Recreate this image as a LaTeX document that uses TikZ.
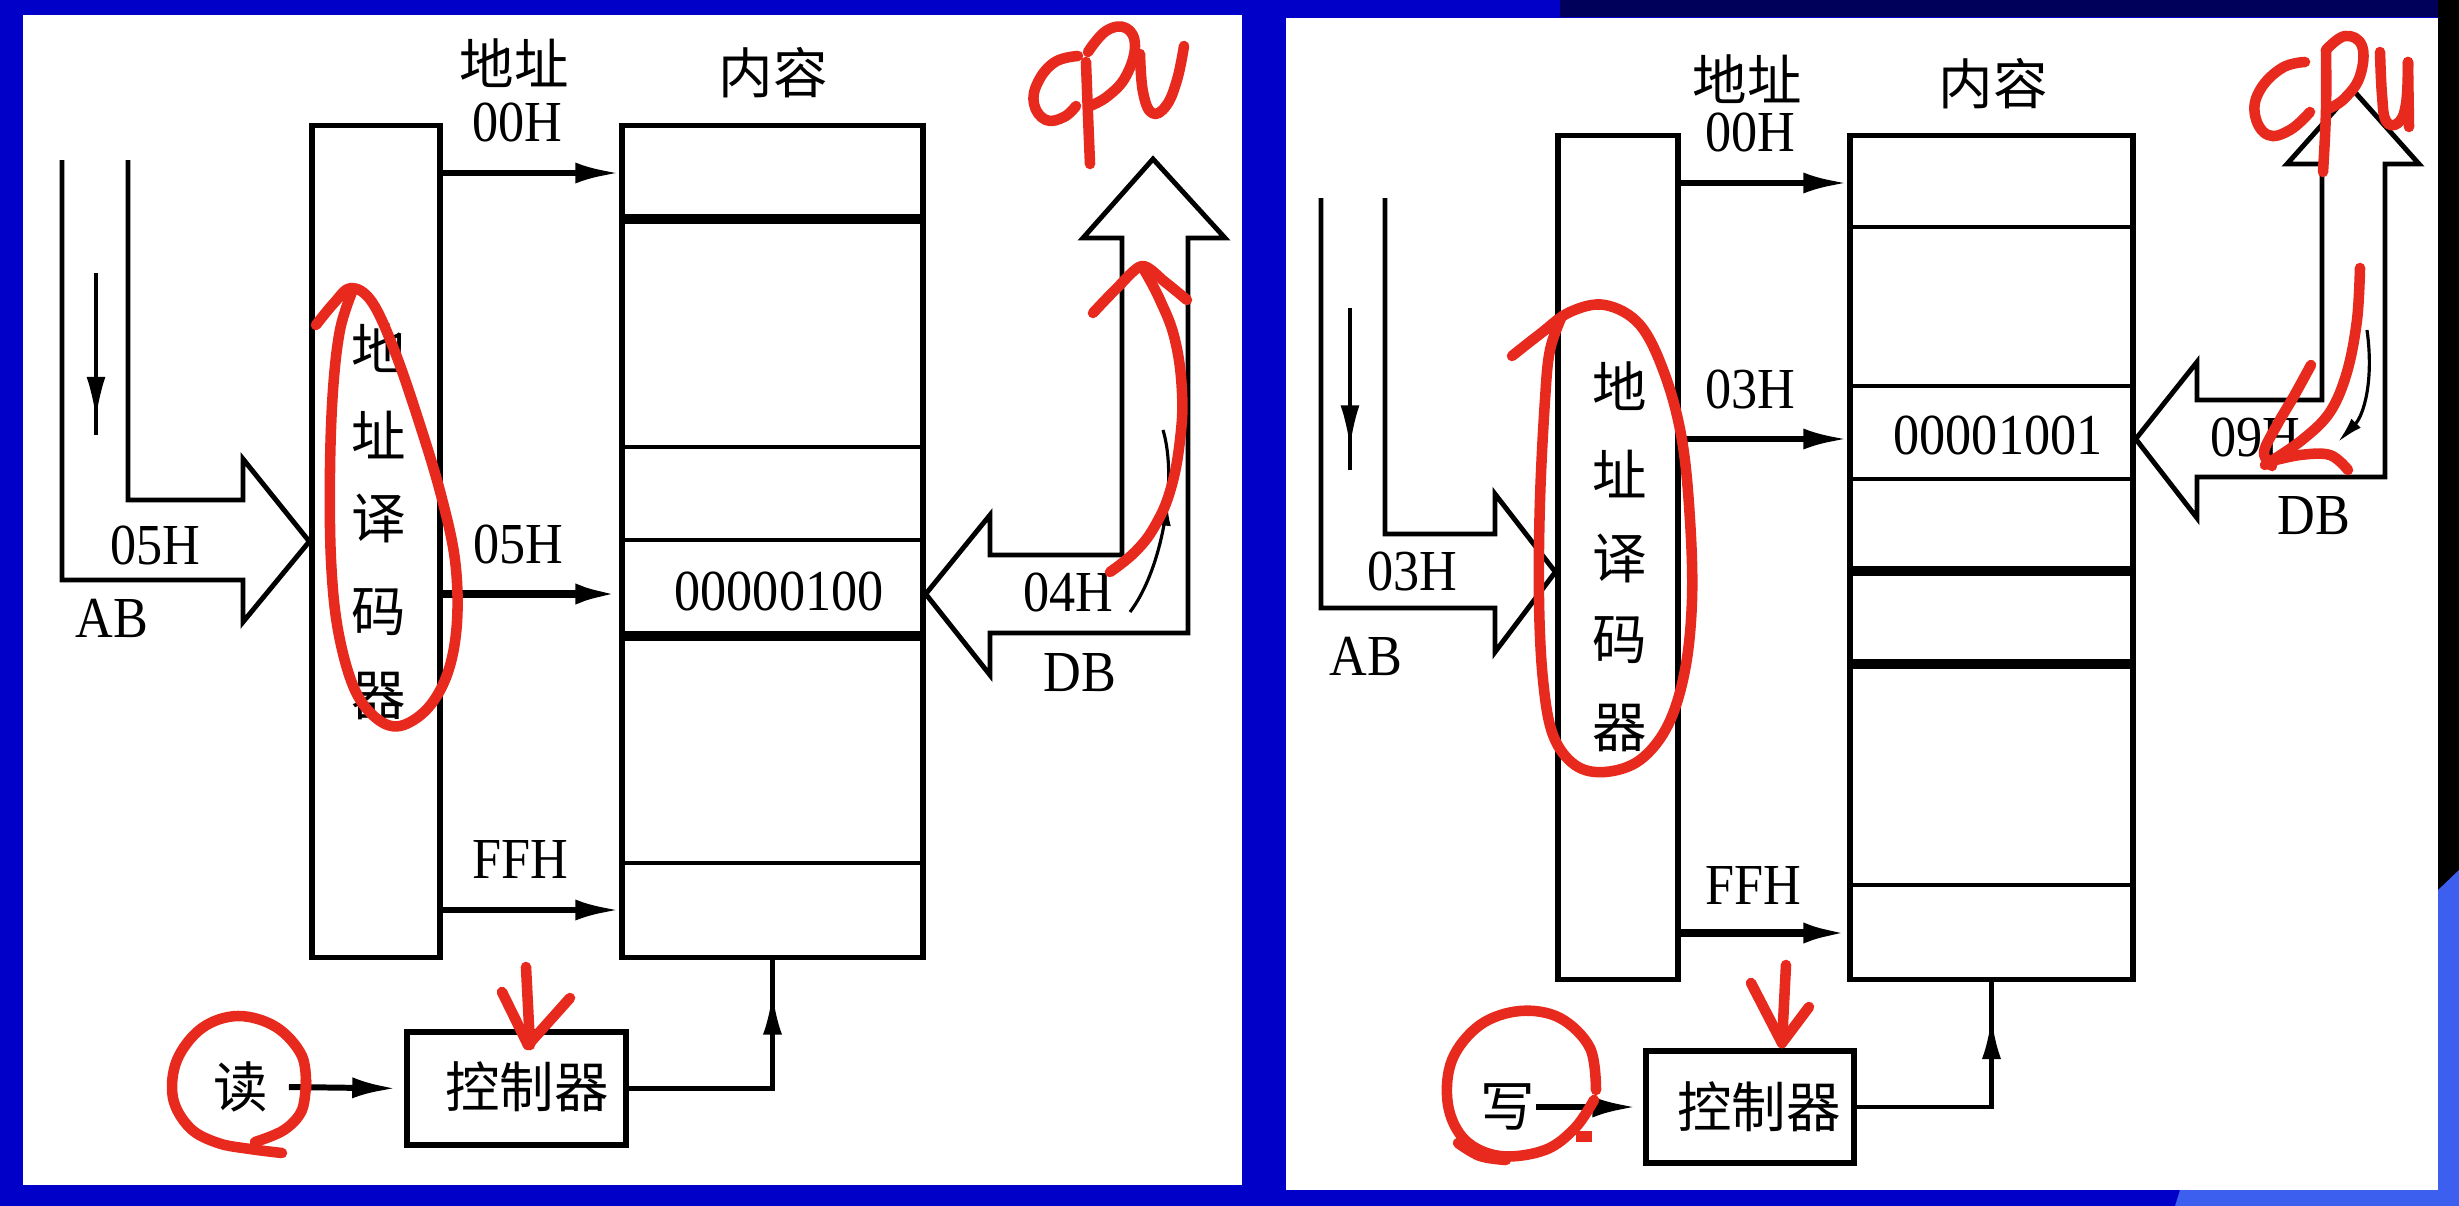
\documentclass[tikz,border=0pt]{standalone}
\usepackage{fontspec}
\setmainfont{Liberation Serif}
\newfontfamily\cjk{Noto Sans CJK SC}
\usetikzlibrary{arrows.meta,decorations.markings}
\definecolor{bgblue}{RGB}{0,0,200}
\definecolor{annred}{RGB}{232,42,30}
\definecolor{navyband}{RGB}{0,0,90}
\definecolor{lightbg}{RGB}{60,95,240}
\begin{document}
\begin{tikzpicture}[x=0.01cm,y=-0.01cm,
  ln/.style={line width=1.4pt, line join=miter},
  thk/.style={line width=2.7pt},
  box/.style={draw, line width=1.5pt, fill=white, inner sep=0pt, anchor=center},
  lbl/.style={font=\fontsize{16.5}{16.5}\selectfont, inner sep=0pt, xscale=0.9},
  cn/.style={font=\cjk\fontsize{15.5}{15.5}\selectfont, inner sep=0pt},
  arr/.style={line width=1.7pt, -{Latex[length=4.4mm,width=2.1mm]}},
  midarrow/.style={decoration={markings, mark=at position #1 with {\arrow{Latex[length=4.2mm,width=1.9mm]}}}, postaction={decorate}},
  fineline/.style={line width=0.9pt},
  annot/.style={draw=annred, line width=3pt, line cap=round, line join=round}
]
\useasboundingbox (0,0) rectangle (2459,1206);
% background
\fill[bgblue] (0,0) rectangle (2459,1206);
\fill[navyband] (1560,0) rectangle (2459,17);
\fill[black] (2438,0) rectangle (2459,890);
\fill[lightbg] (2438,890) -- (2459,870) -- (2459,1206) -- (2175,1206) -- (2180,1190) -- (2438,1190) -- cycle;
\fill[white] (23,15) rectangle (1242,1185);
\fill[white] (1286,18) rectangle (2438,1190);

% ================= LEFT PANEL (read) =================
\node[box, minimum width=1.28cm, minimum height=8.31cm] (decL) at (376,541.5) {};
\node[box, minimum width=3.01cm, minimum height=8.31cm] (memL) at (772.5,541.5) {};
\draw[thk] (622,219) -- (923,219);
\draw[ln] (622,447) -- (923,447);
\draw[ln] (622,540) -- (923,540);
\draw[thk] (622,636) -- (923,636);
\draw[ln] (622,863) -- (923,863);
\foreach \c/\y [count=\i] in {地/348,址/435,译/518,码/612,器/696}
  \node[cn] (dL\i) at (379,\y) {\c};
\node[cn] (hAddrL) at (514,63) {地址};
\node[cn] (hContL) at (773,73) {内容};
\node[lbl] (a00L) at (517,122) {00H};
\node[lbl] (a05L) at (518,544) {05H};
\node[lbl] (aFFL) at (520,859) {FFH};
\node[lbl] (cellL) at (779,591) {00000100};
\coordinate (yL1) at (0,173);
\coordinate (yL2) at (0,594);
\coordinate (yL3) at (0,910);
\draw[arr] (decL.east |- yL1) -- (memL.west |- yL1);
\draw[arr, line width=2.2pt] (decL.east |- yL2) -- (memL.west |- yL2);
\draw[arr] (decL.east |- yL3) -- (memL.west |- yL3);
% AB bus
\draw[ln] (128,160) -- (128,500) -- (243,500) -- (243,459) -- (decL.west) -- (243,622) -- (243,580) -- (62,580) -- (62,160);
\draw[line width=1.1pt, midarrow=0.9] (96,273) -- (96,435);
\node[lbl] (abvL) at (155,545) {05H};
\node[lbl] (abL) at (112,618) {AB};
% DB bus
\coordinate (dbL) at (0,594);
\draw[ln] (1083,238) -- (1122,238) -- (1122,555) -- (990,555) -- (990,515) -- (memL.east |- dbL) -- (990,675) -- (990,633) -- (1188,633) -- (1188,238) -- (1225,238) -- (1153,159) -- cycle;
\node[lbl] (dbvL) at (1068,592) {04H};
\node[lbl] (dbLt) at (1080,673) {DB};
\draw[fineline, decoration={markings, mark=at position 0.62 with {\arrow{Latex[length=2.4mm,width=1.2mm]}}}, postaction={decorate}] (1130,612) .. controls (1162,570) and (1178,480) .. (1163,430);
% controller
\node[box, minimum width=2.19cm, minimum height=1.13cm] (ctlL) at (516.5,1088.5) {};
\node[cn] (ctlLt) at (527,1087) {控制器};
\node[cn] (rd) at (241,1087) {读};
\draw[arr, shorten >=0.08cm] ([xshift=0.2cm]rd.east) -- (ctlL.west);
\draw[ln, midarrow=0.88] (ctlL.east) -| (memL.south);

% ================= RIGHT PANEL (write) =================
\node[box, minimum width=1.20cm, minimum height=8.43cm] (decR) at (1618,557.5) {};
\node[box, minimum width=2.83cm, minimum height=8.43cm] (memR) at (1991.5,557.5) {};
\draw[ln] (1850,227) -- (2133,227);
\draw[ln] (1850,386) -- (2133,386);
\draw[ln] (1850,479) -- (2133,479);
\draw[thk] (1850,571) -- (2133,571);
\draw[thk] (1850,664) -- (2133,664);
\draw[ln] (1850,885) -- (2133,885);
\foreach \c/\y [count=\i] in {地/386,址/474,译/558,码/640,器/728}
  \node[cn] (dR\i) at (1620,\y) {\c};
\node[cn] (hAddrR) at (1747,79) {地址};
\node[cn] (hContR) at (1993,84) {内容};
\node[lbl] (a00R) at (1750,132) {00H};
\node[lbl] (a03R) at (1750,389) {03H};
\node[lbl] (aFFR) at (1753,885) {FFH};
\node[lbl] (cellR) at (1998,435) {00001001};
\coordinate (yR1) at (0,183);
\coordinate (yR2) at (0,439);
\coordinate (yR3) at (0,933);
\draw[arr] (decR.east |- yR1) -- (memR.west |- yR1);
\draw[arr] (decR.east |- yR2) -- (memR.west |- yR2);
\draw[arr, line width=2pt] (decR.east |- yR3) -- (memR.west |- yR3);
% AB bus
\coordinate (abR) at (0,572);
\draw[ln] (1385,198) -- (1385,534) -- (1495,534) -- (1495,494) -- (decR.west |- abR) -- (1495,652) -- (1495,608) -- (1321,608) -- (1321,198);
\draw[line width=1.1pt, midarrow=0.86] (1350,308) -- (1350,470);
\node[lbl] (abvR) at (1412,571) {03H};
\node[lbl] (abRt) at (1366,656) {AB};
% DB bus
\coordinate (dbR) at (0,439);
\draw[ln] (2287,164) -- (2322,164) -- (2322,400) -- (2197,400) -- (2197,362) -- (memR.east |- dbR) -- (2197,518) -- (2197,477) -- (2385,477) -- (2385,164) -- (2419,164) -- (2353,90) -- cycle;
\node[lbl] (dbvR) at (2255,437) {09H};
\node[lbl] (dbRt) at (2314,516) {DB};
\draw[fineline, -{Latex[length=2.6mm,width=1.3mm]}] (2367,330) .. controls (2374,380) and (2364,415) .. (2338,442);
% controller
\node[box, minimum width=2.08cm, minimum height=1.12cm] (ctlR) at (1750,1107) {};
\node[cn] (ctlRt) at (1759,1107) {控制器};
\node[cn] (wr) at (1508,1107) {写};
\draw[arr, shorten >=0.07cm] (wr.east) -- (ctlR.west);
\draw[ln, midarrow=0.865] (ctlR.east) -| (memR.south);

% ================= RED ANNOTATIONS =================
% left
\draw[annot] plot[smooth, tension=0.7] coordinates {(1078,56) (1055,62) (1038,82) (1034,104) (1046,120) (1064,117) (1076,106)};
\draw[annot] plot[smooth, tension=0.7] coordinates {(1086,62) (1088,115) (1090,164)};
\draw[annot] plot[smooth, tension=0.7] coordinates {(1088,52) (1106,31) (1126,28) (1135,46) (1126,76) (1108,96) (1090,106)};
\draw[annot] plot[smooth, tension=0.7] coordinates {(1140,54) (1143,92) (1152,113) (1166,106) (1177,80) (1184,46)};
\draw[annot] plot[smooth, tension=0.6] coordinates {(316,325) (334,303) (351,288) (372,302) (395,352) (420,425) (441,495) (455,560) (457,622) (448,672) (428,708) (400,726) (376,718) (354,688) (338,630) (331,560) (330,470) (333,390) (340,330) (352,292)};
\draw[annot] plot[smooth, tension=0.7] coordinates {(1110,572) (1136,551) (1156,524) (1171,488) (1180,440) (1182,392) (1175,340) (1160,300) (1143,268)};
\draw[annot] plot[smooth, tension=0.5] coordinates {(1093,313) (1117,288) (1142,266) (1165,282) (1187,300)};
\draw[annot] (526,967) -- (530,1045);
\draw[annot] (502,992) -- (528,1045) -- (570,998);
\draw[annot] plot[smooth, tension=0.6] coordinates {(306,1090) (302,1056) (276,1027) (238,1016) (202,1028) (177,1060) (173,1098) (190,1128) (218,1143) (250,1149) (282,1153)};
\draw[annot] plot[smooth, tension=0.6] coordinates {(306,1080) (302,1110) (284,1130) (255,1142)};
% right
\draw[annot] plot[smooth, tension=0.7] coordinates {(2305,62) (2282,68) (2260,90) (2255,115) (2268,135) (2290,130) (2310,112)};
\draw[annot] plot[smooth, tension=0.7] coordinates {(2326,50) (2326,110) (2323,172)};
\draw[annot] plot[smooth, tension=0.7] coordinates {(2326,50) (2345,36) (2362,46) (2360,76) (2345,98) (2330,108)};
\draw[annot] plot[smooth, tension=0.7] coordinates {(2380,52) (2382,95) (2386,121) (2398,123) (2406,104) (2408,62)};
\draw[annot] (2408,62) -- (2409,127);
\draw[annot] plot[smooth, tension=0.6] coordinates {(1512,356) (1540,334) (1570,312) (1605,305) (1640,325) (1665,375) (1682,440) (1690,520) (1692,600) (1685,670) (1668,725) (1640,760) (1605,772) (1575,765) (1553,735) (1543,680) (1539,600) (1540,500) (1545,400) (1550,350) (1562,316)};
\draw[annot] plot[smooth, tension=0.6] coordinates {(2360,268) (2357,320) (2347,372) (2330,412) (2302,440) (2265,465)};
\draw[annot] plot[smooth, tension=0.6] coordinates {(2311,365) (2294,396) (2277,425) (2264,452) (2272,466)};
\draw[annot] plot[smooth, tension=0.6] coordinates {(2268,462) (2300,455) (2330,455) (2348,470)};
\draw[annot] (1786,965) -- (1782,1043);
\draw[annot] (1751,983) -- (1782,1043) -- (1809,1007);
\draw[annot] plot[smooth, tension=0.6] coordinates {(1596,1090) (1590,1048) (1560,1018) (1520,1011) (1480,1025) (1452,1060) (1448,1105) (1465,1140) (1500,1156) (1545,1150) (1575,1128) (1594,1100)};
\draw[annot] plot[smooth, tension=0.6] coordinates {(1458,1143) (1480,1156) (1506,1160)};
\fill[annred] (1576,1131) rectangle (1592,1142);
\end{tikzpicture}
\end{document}
